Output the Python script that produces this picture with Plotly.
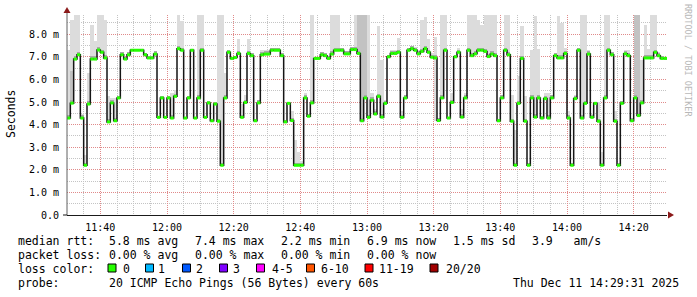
import plotly.graph_objects as go
import pandas as pd

# ---------------- data (ms) ----------------
median_ms = [
    4.29, 4.95, 6.90, 7.09, 4.29, 2.20, 4.91, 6.90, 6.90, 7.30,
    7.20, 6.95, 4.12, 4.96, 4.17, 5.18, 7.09, 6.90, 7.09, 7.29,
    7.29, 7.29, 7.29, 7.09, 6.95, 6.95, 7.12, 4.32, 5.18, 4.32,
    5.18, 4.29, 5.25, 7.36, 7.29, 4.29, 5.18, 7.29, 4.29, 5.18,
    7.29, 4.32, 4.96, 4.17, 4.91, 4.15, 2.20, 5.18, 7.20, 6.93,
    6.97, 7.15, 4.32, 4.98, 7.15, 7.05, 4.17, 4.96, 7.09, 7.12,
    7.12, 7.29, 7.29, 7.29, 7.05, 4.12, 4.94, 4.18, 2.20, 2.20,
    2.20, 5.18, 4.37, 4.96, 6.93, 6.93, 7.09, 7.05, 6.93, 7.12,
    7.29, 7.29, 7.29, 7.13, 7.13, 7.32, 7.32, 7.15, 4.17, 5.18,
    4.32, 5.08, 4.47, 5.25, 4.33, 4.94, 7.00, 7.15, 7.15, 7.20,
    4.32, 5.18, 7.29, 7.36, 7.29, 7.13, 7.24, 7.36, 7.20, 6.98,
    6.95, 4.18, 5.18, 7.29, 4.29, 4.98, 7.00, 7.20, 4.33, 5.18,
    7.29, 7.05, 7.13, 7.29, 7.29, 7.24, 7.01, 7.12, 7.05, 4.17,
    5.18, 7.29, 7.09, 4.15, 2.20, 4.94, 6.93, 4.15, 2.20, 5.18,
    4.33, 5.18, 4.29, 5.15, 4.29, 5.18, 7.05, 6.95, 6.95, 7.15,
    4.29, 2.20, 5.15, 7.29, 4.29, 4.94, 7.12, 4.32, 4.94, 4.15,
    2.20, 5.18, 7.29, 7.09, 4.15, 2.20, 4.94, 7.13, 7.05, 4.17,
    5.18, 4.40, 4.96, 6.95, 6.95, 6.95, 7.20, 7.05, 6.93, 6.93,
]

smoke_max_ms = [
    7.30, 8.64, 8.86, 8.86, 4.45, 2.67, 6.29, 8.42, 7.68, 8.86,
    8.86, 8.64, 5.25, 5.18, 5.18, 5.25, 7.20, 7.00, 7.20, 7.35,
    7.35, 7.35, 7.35, 7.15, 7.00, 7.00, 7.25, 4.40, 5.25, 4.40,
    5.25, 5.40, 5.55, 8.86, 8.60, 4.35, 5.25, 7.35, 4.35, 8.86,
    8.86, 4.40, 5.05, 4.25, 5.00, 8.86, 8.86, 6.30, 7.30, 7.00,
    7.05, 7.79, 4.90, 5.30, 7.77, 7.15, 4.25, 5.10, 7.30, 7.30,
    7.30, 7.40, 7.40, 7.40, 7.15, 4.20, 5.00, 4.60, 3.33, 2.80,
    2.40, 5.40, 4.45, 8.86, 7.00, 7.00, 7.20, 7.15, 7.05, 8.86,
    8.86, 8.86, 7.40, 7.25, 7.25, 7.45, 8.86, 8.86, 8.86, 8.86,
    8.86, 5.40, 4.70, 8.35, 6.87, 5.10, 7.10, 7.30, 7.30, 7.83,
    4.60, 5.30, 7.40, 7.50, 7.45, 7.30, 8.64, 8.75, 7.79, 7.15,
    7.86, 4.30, 8.86, 8.86, 4.35, 5.40, 7.10, 7.40, 4.70, 5.40,
    8.86, 8.86, 8.86, 8.64, 8.39, 8.86, 8.86, 8.86, 8.86, 4.25,
    5.30, 8.86, 8.86, 5.30, 3.77, 6.14, 8.35, 5.25, 2.30, 7.30,
    8.80, 7.35, 4.40, 5.40, 5.40, 5.30, 7.15, 8.80, 8.50, 7.40,
    4.60, 2.30, 5.30, 7.40, 8.86, 8.86, 7.30, 4.45, 5.00, 5.00,
    2.80, 8.86, 8.86, 7.20, 4.60, 2.30, 5.05, 7.30, 7.30, 4.30,
    8.86, 8.86, 6.85, 8.40, 7.35, 8.86, 8.86, 7.20, 7.05, 7.00,
]

# samples whose smoke reaches below the median: index -> lowest ping (ms)
smoke_min_low = {110: 4.18}
# samples with a denser (darker) smoke band above the median: index -> top (ms)
dense_band_top = {1: 6.36, 87: 8.86, 88: 8.86, 89: 8.86, 170: 8.86, 171: 8.86}

y_ticks = [0, 1, 2, 3, 4, 5, 6, 7, 8]
y_tick_text = ["0.0", "1.0 m", "2.0 m", "3.0 m", "4.0 m", "5.0 m", "6.0 m", "7.0 m", "8.0 m"]

loss_labels = ["0", "1", "2", "3", "4-5", "6-10", "11-19", "20/20"]
loss_colors = ["#26ff00", "#00b8ff", "#0059ff", "#7e00ff", "#ff00ff", "#ff5500", "#ff0000", "#a10000"]

stats_rtt = ["5.8 ms avg", "7.4 ms max", "2.2 ms min", "6.9 ms now", "1.5 ms sd", "3.9\u00a0\u00a0\u00a0am/s"]
stats_loss = ["0.00 % avg", "0.00 % max", "0.00 % min", "0.00 % now"]
probe_text = "20 ICMP Echo Pings (56 Bytes) every 60s"
stamp_text = "Thu Dec 11 14:29:31 2025"

# ---------------- geometry helpers ----------------
PL, PR, PT, PB = 67, 667, 15, 215
W, H = 697, 297


def px(x):
    return (x - PL) / (PR - PL)


def py(y):
    return (PB - y) / (PB - PT)


start = pd.Timestamp("2025-12-11 11:30:00")
step = pd.Timedelta(seconds=60)
n = len(median_ms)
t0 = [start + k * step for k in range(n)]
t1 = [start + (k + 1) * step for k in range(n)]
tc = [start + k * step + step / 2 for k in range(n)]

lo = [min(median_ms[k], smoke_min_low.get(k, median_ms[k])) for k in range(n)]

fig = go.Figure()

# outer smoke
fig.add_trace(go.Bar(
    x=tc, y=[smoke_max_ms[k] - lo[k] for k in range(n)], base=lo,
    width=60000, marker=dict(color="#dcdcdc", line=dict(width=0)),
    hoverinfo="skip", showlegend=False))

# denser smoke
idx = sorted(dense_band_top)
fig.add_trace(go.Bar(
    x=[tc[k] for k in idx], y=[dense_band_top[k] - median_ms[k] for k in idx],
    base=[median_ms[k] for k in idx],
    width=60000, marker=dict(color="#c2c2c2", line=dict(width=0)),
    hoverinfo="skip", showlegend=False))

# innermost smoke (just above median)
fig.add_trace(go.Bar(
    x=tc, y=[min(0.12, smoke_max_ms[k] - median_ms[k]) for k in range(n)], base=median_ms,
    width=60000, marker=dict(color="#a8a8a8", line=dict(width=0)),
    hoverinfo="skip", showlegend=False))

# median step line
fig.add_trace(go.Scatter(
    x=t0 + [t1[-1]], y=median_ms + [median_ms[-1]], mode="lines",
    line=dict(color="#151515", width=1.5, shape="hv"),
    hoverinfo="skip", showlegend=False))

# loss-coloured median segments
gx, gy = [], []
for k in range(n):
    gx += [t0[k], t1[k], None]
    gy += [median_ms[k], median_ms[k], None]
fig.add_trace(go.Scatter(
    x=gx, y=gy, mode="lines", line=dict(color=loss_colors[0], width=3),
    hoverinfo="skip", showlegend=False))

mono = "DejaVu Sans Mono"
major_grid = "#e08a8a"
minor_grid = "#c4c4c4"

fig.update_layout(
    width=W, height=H,
    margin=dict(l=PL, r=W - PR, t=PT, b=H - PB),
    paper_bgcolor="white", plot_bgcolor="white",
    barmode="overlay", bargap=0,
    showlegend=False,
    xaxis=dict(
        type="date",
        range=[start, start + n * step],
        tickformat="%H:%M",
        tick0="2025-12-11 11:40:00", dtick=20 * 60 * 1000,
        showgrid=True, gridcolor=major_grid, griddash="1px,1px", gridwidth=1,
        minor=dict(dtick=5 * 60 * 1000, showgrid=True, gridcolor=minor_grid,
                   griddash="1px,1px", gridwidth=1),
        ticks="", ticklabelstandoff=3,
        tickfont=dict(family=mono, size=10, color="#000000"),
        showline=True, linecolor="#1a1a1a", linewidth=1,
        zeroline=False, fixedrange=True,
    ),
    yaxis=dict(
        range=[0, 8.85],
        tickvals=y_ticks, ticktext=y_tick_text,
        showgrid=True, gridcolor=major_grid, griddash="1px,1px", gridwidth=1,
        minor=dict(dtick=0.5, tick0=0, showgrid=True, gridcolor=minor_grid,
                   griddash="1px,1px", gridwidth=1),
        ticks="", ticklabelstandoff=7,
        tickfont=dict(family=mono, size=10, color="#000000"),
        showline=False, zeroline=False, fixedrange=True,
    ),
)

shapes = []
# y axis line with arrow
shapes.append(dict(type="line", xref="paper", yref="paper",
                   x0=px(67), x1=px(67), y0=py(215), y1=py(12),
                   line=dict(color="#606060", width=1)))
shapes.append(dict(type="line", xref="paper", yref="paper",
                   x0=px(63), x1=px(PL), y0=py(215), y1=py(215),
                   line=dict(color="#1a1a1a", width=1)))
shapes.append(dict(type="path", xref="paper", yref="paper",
                   path=f"M {px(67)},{py(7)} L {px(70.5)},{py(13)} L {px(63.5)},{py(13)} Z",
                   fillcolor="#8b1a1a", line=dict(width=0)))
shapes.append(dict(type="path", xref="paper", yref="paper",
                   path=f"M {px(674)},{py(215)} L {px(668)},{py(211.5)} L {px(668)},{py(218.5)} Z",
                   fillcolor="#8b1a1a", line=dict(width=0)))

# loss colour swatches
swatch_x = [108, 145.5, 182.5, 219.5, 256.5, 306.5, 365, 430]
label_x = [120.5, 156, 193.5, 231, 269.5, 319, 376.5, 444]
for sx, col in zip(swatch_x, loss_colors):
    shapes.append(dict(type="rect", xref="paper", yref="paper",
                       x0=px(sx), x1=px(sx + 8), y0=py(272), y1=py(264),
                       fillcolor=col, line=dict(color="#000000", width=1)))
fig.update_layout(shapes=shapes)

ann = []


def text(x, y, s, size=11.5, anchor="left", color="#000000", angle=0):
    ann.append(dict(xref="paper", yref="paper", x=px(x), y=py(y), text=s,
                    showarrow=False, xanchor=anchor, yanchor="middle",
                    textangle=angle,
                    font=dict(family=mono, size=size, color=color)))


row_y = [240.7, 255, 269, 283.3]
col_x = [106.5, 192.5, 278.5, 364.5, 451, 529.5]

text(15.5, row_y[0], "median rtt:")
for cx, s in zip(col_x, stats_rtt):
    text(cx, row_y[0], s)
text(15.5, row_y[1], "packet loss:")
for cx, s in zip(col_x, stats_loss):
    text(cx, row_y[1], s)
text(15.5, row_y[2], "loss color:")
for lx, s in zip(label_x, loss_labels):
    text(lx, row_y[2], s)
text(15.5, row_y[3], "probe:")
text(106.5, row_y[3], probe_text)
text(681, row_y[3], stamp_text, anchor="right")

text(11, 114, "Seconds", size=11.5, anchor="center", angle=-90)
text(688, 60, "RRDTOOL / TOBI OETIKER", size=8.5, anchor="center", color="#b8b8b8", angle=90)

fig.update_layout(annotations=ann)

fig.write_html("out.html")
